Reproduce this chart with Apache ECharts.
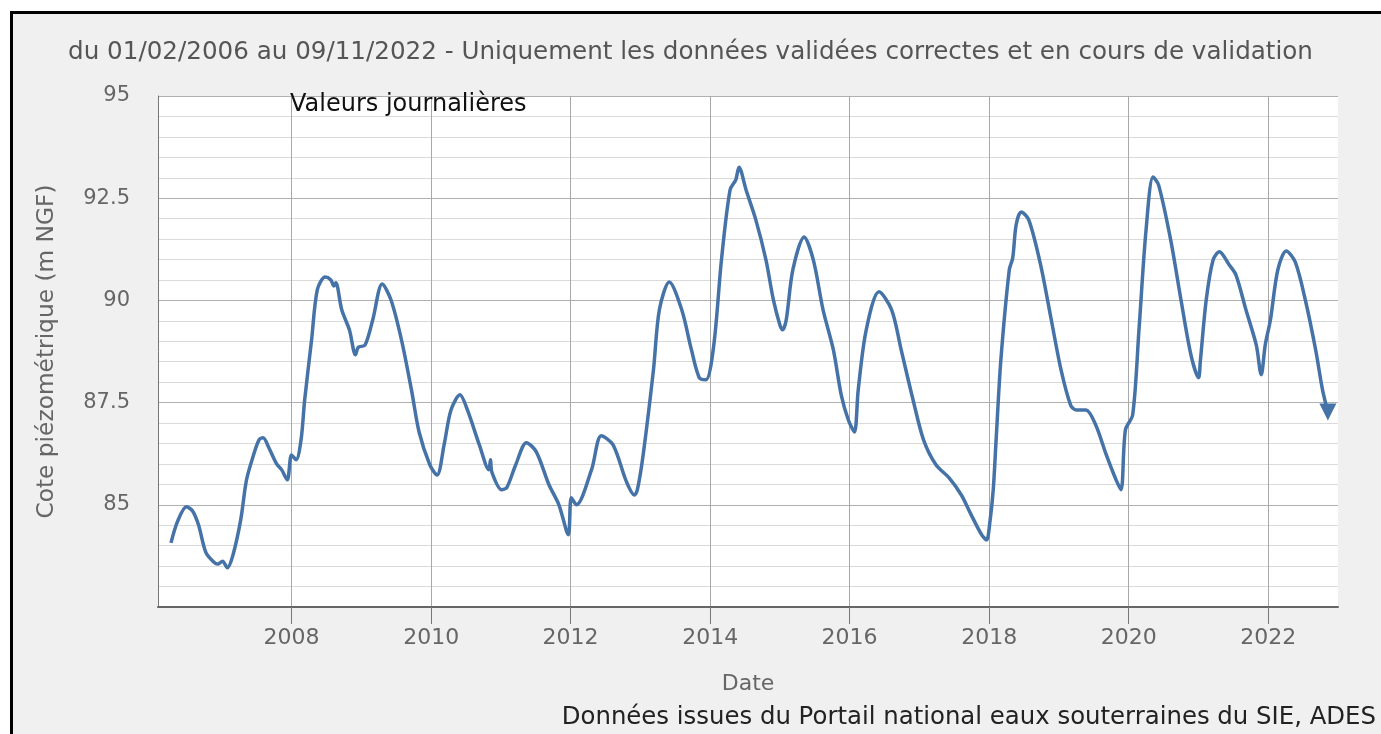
<!DOCTYPE html>
<html>
<head>
<meta charset="utf-8">
<script src="https://cdn.jsdelivr.net/npm/echarts@6/dist/echarts.min.js"></script>
<style>
  html, body { margin: 0; padding: 0; width: 1381px; height: 734px; background: #fff; overflow: hidden; }
  #frame { position: absolute; left: 10px; top: 11px; width: 1371px; height: 723px; background: #f0f0f0;
           border-top: 3px solid #000; border-left: 3px solid #000; box-sizing: border-box; }
  #chart { position: absolute; left: 0; top: 0; width: 1381px; height: 734px; }
</style>
</head>
<body>
<div id="frame"></div>
<div id="chart"></div>
<script>
// ---- Data ----
const titleText = "du 01/02/2006 au 09/11/2022 - Uniquement les données validées correctes et en cours de validation";
const yAxisTitle = "Cote piézométrique (m NGF)";
const xAxisTitle = "Date";
const seriesLabel = "Valeurs journalières";
const sourceText = "Données issues du Portail national eaux souterraines du SIE, ADES";

const xMin = "2006-02-01";
const xMax = "2023-01-01";
const yearTicks = ["2008-01-01","2010-01-01","2012-01-01","2014-01-01","2016-01-01","2018-01-01","2020-01-01","2022-01-01"];
const yMin = 82.5, yMax = 95, yStep = 2.5;

const dates = [
"2006-04-10","2006-05-15","2006-06-30","2006-08-01","2006-09-01","2006-10-10","2006-11-20","2006-12-10","2007-01-05","2007-01-30",
"2007-03-01","2007-04-10","2007-05-10","2007-06-15","2007-07-15","2007-08-05","2007-09-05","2007-10-15","2007-11-10","2007-12-10",
"2008-01-01","2008-01-25","2008-02-20","2008-03-10","2008-04-15","2008-05-15","2008-06-25","2008-07-25","2008-08-10","2008-08-20",
"2008-09-20","2008-10-30","2008-12-01","2008-12-15","2009-01-20","2009-03-01","2009-04-20","2009-06-05","2009-07-30","2009-09-20",
"2009-10-30","2009-12-25","2010-02-01","2010-03-10","2010-04-15","2010-06-01","2010-07-10","2010-09-10","2010-10-30","2010-11-08",
"2010-11-15","2011-01-05","2011-02-01","2011-03-20","2011-05-15","2011-07-05","2011-09-10","2011-11-01","2011-12-20","2012-01-05",
"2012-02-01","2012-04-20","2012-06-10","2012-08-10","2012-10-20","2012-11-30","2012-12-15","2013-01-15","2013-03-10","2013-04-10",
"2013-06-01","2013-08-05","2013-09-25","2013-11-05","2013-12-10","2014-01-20","2014-03-01","2014-04-15","2014-05-15","2014-06-01",
"2014-07-08","2014-08-28","2014-10-20","2014-11-28","2015-01-01","2015-01-15","2015-02-03","2015-03-10","2015-05-08","2015-06-25",
"2015-08-15","2015-10-08","2015-11-18","2015-12-25","2016-01-26","2016-02-15","2016-03-28","2016-06-03","2016-08-08","2016-09-27",
"2016-11-28","2017-01-22","2017-03-28","2017-06-05","2017-08-08","2017-09-28","2017-11-22","2017-12-18","2018-01-05","2018-01-22",
"2018-02-06","2018-03-03","2018-04-16","2018-05-04","2018-05-22","2018-06-17","2018-07-27","2018-09-27","2018-11-22","2019-01-12",
"2019-03-03","2019-04-01","2019-05-22","2019-07-12","2019-09-06","2019-10-27","2019-11-22","2019-12-15","2020-01-22","2020-02-24",
"2020-04-01","2020-05-08","2020-06-06","2020-08-08","2020-10-01","2020-11-22","2021-01-01","2021-01-10","2021-02-10","2021-03-18",
"2021-04-20","2021-06-10","2021-07-16","2021-09-06","2021-10-30","2021-11-25","2021-12-16","2022-01-12","2022-02-20","2022-04-05",
"2022-05-22","2022-07-14","2022-09-06","2022-10-12","2022-11-09"
];
const levels = [
84.07,84.60,84.95,84.85,84.51,83.83,83.60,83.55,83.62,83.46,
83.78,84.63,85.60,86.20,86.59,86.64,86.39,86.00,85.86,85.61,
86.22,86.10,86.59,87.57,89.03,90.26,90.57,90.50,90.35,90.43,
89.77,89.28,88.67,88.85,88.91,89.52,90.40,90.01,89.03,87.81,
86.78,85.98,85.73,86.47,87.32,87.69,87.32,86.47,85.86,86.10,
85.80,85.37,85.42,85.98,86.52,86.30,85.49,85.00,84.27,85.17,
85.00,85.86,86.69,86.47,85.56,85.24,85.35,86.22,88.30,89.77,
90.45,89.77,88.79,88.11,88.06,88.91,90.99,92.70,92.95,93.26,
92.70,91.97,90.99,90.01,89.40,89.28,89.52,90.75,91.55,90.99,
89.77,88.79,87.69,87.08,86.78,87.81,89.28,90.21,89.77,88.79,
87.57,86.59,85.98,85.66,85.24,84.76,84.27,84.14,84.60,85.37,
86.59,88.55,90.75,91.04,91.85,92.16,91.97,90.87,89.52,88.30,
87.44,87.32,87.32,86.96,86.22,85.61,85.37,86.83,87.20,89.28,
91.72,93.02,92.82,91.48,90.01,88.67,88.11,88.50,90.01,90.99,
91.19,90.87,90.62,89.77,88.91,88.18,88.91,89.52,90.75,91.21,
90.94,90.01,88.79,87.81,87.27
];

// ---- Build ----
const ts = s => +new Date(s + "T00:00:00Z");
const tickVals = yearTicks.map(ts);
const seriesData = dates.map((d, i) => {
  const p = [ts(d), levels[i]];
  if (i === dates.length - 1) {
    return { value: p, symbol: 'triangle', symbolSize: 17, symbolRotate: 180, symbolKeepAspect: true };
  }
  return { value: p, symbol: 'none' };
});

const FONT = 'DejaVu Sans';
const chart = echarts.init(document.getElementById('chart'), null, { renderer: 'canvas' });
chart.setOption({
  animation: false,
  backgroundColor: 'transparent',
  textStyle: { fontFamily: FONT },
  title: {
    text: titleText,
    left: 'center',
    top: 35,
    textStyle: { fontFamily: FONT, fontSize: 24.6, fontWeight: 'normal', color: '#555' }
  },
  grid: {
    left: 158, top: 96, width: 1180, height: 511,
    show: true, backgroundColor: '#fff', borderWidth: 0, containLabel: false
  },
  xAxis: {
    type: 'value',
    min: ts(xMin), max: ts(xMax),
    name: xAxisTitle,
    nameLocation: 'middle',
    nameGap: 66,
    nameTextStyle: { fontFamily: FONT, fontSize: 22, color: '#666' },
    axisLine: { show: true, lineStyle: { color: '#666', width: 2 } },
    axisTick: { show: true, customValues: tickVals, length: 17, lineStyle: { color: '#777', width: 1 } },
    axisLabel: {
      customValues: tickVals, margin: 20, fontSize: 22, color: '#666', fontFamily: FONT,
      formatter: v => String(new Date(v).getUTCFullYear())
    },
    splitLine: { show: true, lineStyle: { color: '#a8a8a8', width: 1 } }
  },
  yAxis: {
    type: 'value',
    min: yMin, max: yMax, interval: yStep,
    name: yAxisTitle,
    nameLocation: 'middle',
    nameGap: 100,
    nameRotate: 90,
    nameTextStyle: { fontFamily: FONT, fontSize: 23.3, color: '#666' },
    axisLine: { show: true, lineStyle: { color: '#777', width: 1 } },
    axisTick: { show: false },
    axisLabel: {
      margin: 28, fontSize: 21, color: '#666', fontFamily: FONT,
      formatter: v => (v === yMin ? '' : String(v))
    },
    splitLine: { show: true, lineStyle: { color: '#b0b0b0', width: 1 } },
    minorTick: { show: false, splitNumber: 5 },
    minorSplitLine: { show: true, lineStyle: { color: '#dadada', width: 1 } }
  },
  graphic: [
    { type: 'text', left: 290, top: 93, z: 100,
      style: { text: seriesLabel, font: '24px "DejaVu Sans"', fill: '#111' } },
    { type: 'text', right: 5, top: 706, z: 100,
      style: { text: sourceText, font: '24.4px "DejaVu Sans"', fill: '#222' } }
  ],
  series: [{
    name: seriesLabel,
    type: 'line',
    data: seriesData,
    showSymbol: true,
    showAllSymbol: true,
    smooth: 0.3,
    lineStyle: { color: '#4572a7', width: 3.5 },
    itemStyle: { color: '#4572a7' },
    emphasis: { disabled: true },
    clip: false
  }]
});
</script>
</body>
</html>
